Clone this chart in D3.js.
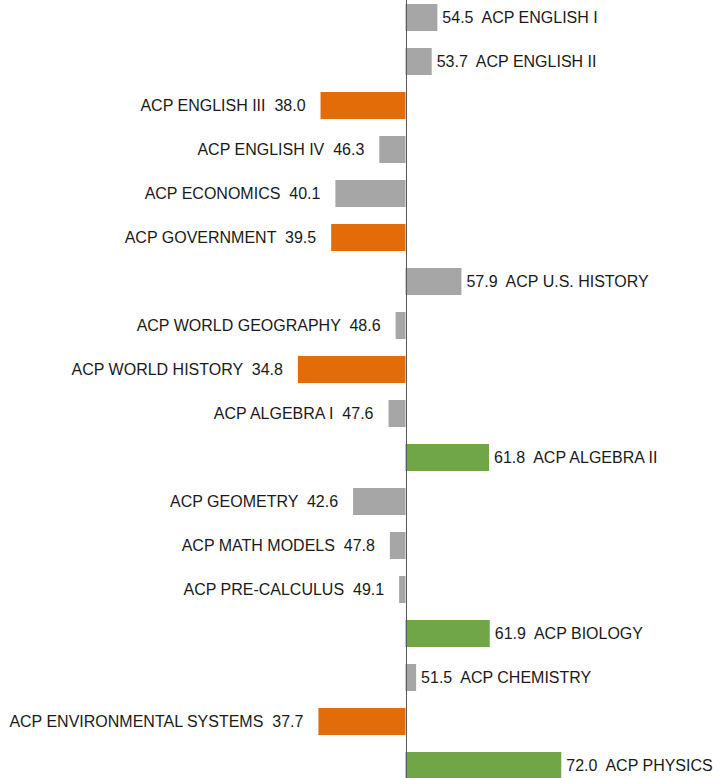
<!DOCTYPE html>
<html>
<head>
<meta charset="utf-8">
<script src="https://cdn.jsdelivr.net/npm/d3@7"></script>
<style>
  body { margin: 0; background: #fff; }
  svg text { font-family: "Liberation Sans", Arial, sans-serif; font-size: 16px; fill: #1a1a1a; }
</style>
</head>
<body>
<svg id="chart"></svg>
<script>
var courses = [
  "ACP ENGLISH I", "ACP ENGLISH II", "ACP ENGLISH III", "ACP ENGLISH IV",
  "ACP ECONOMICS", "ACP GOVERNMENT", "ACP U.S. HISTORY", "ACP WORLD GEOGRAPHY",
  "ACP WORLD HISTORY", "ACP ALGEBRA I", "ACP ALGEBRA II", "ACP GEOMETRY",
  "ACP MATH MODELS", "ACP PRE-CALCULUS", "ACP BIOLOGY", "ACP CHEMISTRY",
  "ACP ENVIRONMENTAL SYSTEMS", "ACP PHYSICS"
];
var scores = [54.5, 53.7, 38.0, 46.3, 40.1, 39.5, 57.9, 48.6, 34.8, 47.6, 61.8, 42.6, 47.8, 49.1, 61.9, 51.5, 37.7, 72.0];
var baseline = 50;

var width = 713, height = 778;

var svg = d3.select("#chart")
  .attr("width", width)
  .attr("height", height);

// 50 sits on the axis line, about 7 px per point
var x = d3.scaleLinear()
  .domain([0, 100])
  .range([405.5 - 354, 405.5 + 354]);

var y = d3.scaleBand()
  .domain(courses)
  .range([-4.5, 787.5])
  .paddingInner(0.386)
  .paddingOuter(0.193);

function barColor(v) {
  if (v < 40) return "#e36c09";
  if (v > 60) return "#70a548";
  return "#a6a6a6";
}

var data = courses.map((c, i) => ({ course: c, score: scores[i] }));

svg.selectAll(".bar")
  .data(data)
  .enter().append("rect")
  .attr("class", "bar")
  .attr("x", d => Math.min(x(d.score), x(baseline)))
  .attr("y", d => y(d.course))
  .attr("width", d => Math.abs(x(d.score) - x(baseline)))
  .attr("height", y.bandwidth())
  .attr("fill", d => barColor(d.score));

svg.selectAll(".label")
  .data(data)
  .enter().append("text")
  .attr("class", "label")
  .attr("x", d => d.score >= baseline ? x(d.score) + 5 : x(d.score) - 15)
  .attr("y", d => y(d.course) + y.bandwidth() / 2)
  .attr("dy", "0.35em")
  .attr("text-anchor", d => d.score >= baseline ? "start" : "end")
  .attr("xml:space", "preserve")
  .text(d => d.score >= baseline
    ? d.score.toFixed(1) + "  " + d.course
    : d.course + "  " + d.score.toFixed(1));

// axis line at the baseline
svg.append("line")
  .attr("x1", Math.round(x(baseline)) + 0.5)
  .attr("x2", Math.round(x(baseline)) + 0.5)
  .attr("y1", 0)
  .attr("y2", height)
  .attr("stroke", "#595959")
  .attr("stroke-width", 1);
</script>
</body>
</html>
